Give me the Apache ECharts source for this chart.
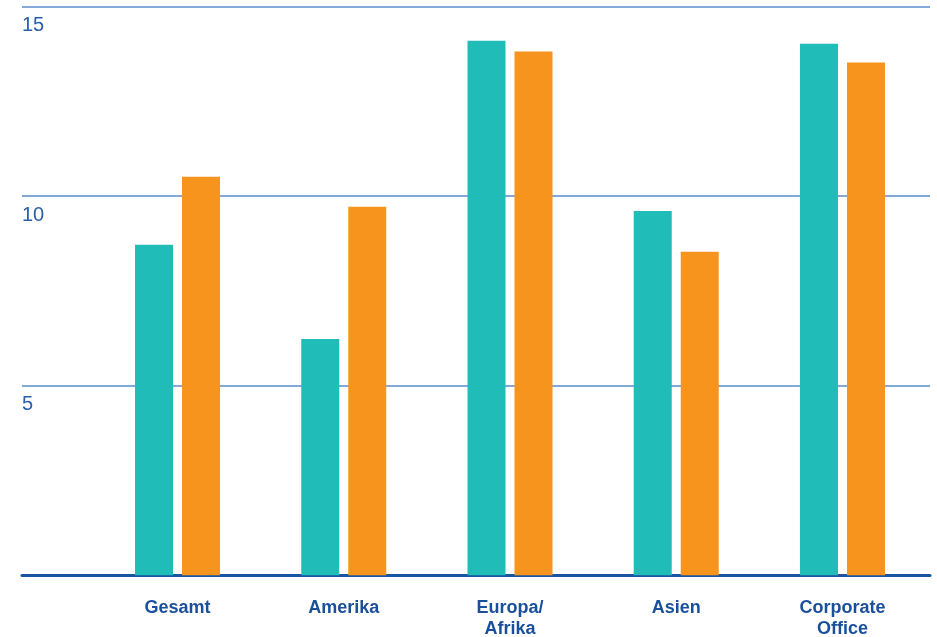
<!DOCTYPE html>
<html>
<head>
<meta charset="utf-8">
<script src="https://cdn.jsdelivr.net/npm/echarts@6/dist/echarts.min.js"></script>
<style>
  html, body { margin: 0; padding: 0; background: #fff; }
  #chart { width: 937px; height: 637px; }
</style>
</head>
<body>
<div id="chart"></div>
<script>
// Regions shown along the category axis
const categories = ['Gesamt', 'Amerika', 'Europa/\nAfrika', 'Asien', 'Corporate\nOffice'];
// Two series per region
const seriesA = [8.72, 6.23, 14.10, 9.61, 14.02];
const seriesB = [10.51, 9.72, 13.81, 8.53, 13.52];
// Value axis range and step
const yMin = 0;
const yMax = 15;
const yStep = 5;

const font = '"Liberation Sans Narrow", "Arial Narrow", "Liberation Sans", Arial, sans-serif';
const chart = echarts.init(document.getElementById('chart'));

chart.setOption({
  animation: false,
  backgroundColor: '#ffffff',
  grid: [
    // Wide grid: gridlines, tick labels, base line
    { left: 22, right: 7, top: 6.5, bottom: 61.7, containLabel: false, outerBoundsMode: 'none' },
    // Inner grid: bars and category labels
    { left: 94.4, right: 11.4, top: 6.5, bottom: 61.7, containLabel: false, outerBoundsMode: 'none' }
  ],
  xAxis: [
    {
      gridIndex: 0, type: 'value', min: 0, max: 1,
      axisLine: { show: true, lineStyle: { color: '#1a55a3', width: 3 } },
      axisTick: { show: false }, axisLabel: { show: false }, splitLine: { show: false }
    },
    {
      gridIndex: 1, type: 'category', data: categories,
      axisLine: { show: false }, axisTick: { show: false },
      axisLabel: {
        interval: 0, margin: 22,
        fontFamily: font, fontWeight: 'bold', fontSize: 18, lineHeight: 21,
        color: '#1a4f9c'
      }
    }
  ],
  yAxis: [
    {
      gridIndex: 0, type: 'value', min: yMin, max: yMax, interval: yStep,
      axisLine: { show: false }, axisTick: { show: false },
      splitLine: { show: true, lineStyle: { color: '#5a8ccb', width: 1.5 } },
      axisLabel: {
        inside: true, margin: 0, align: 'left', verticalAlign: 'top',
        padding: [9, 0, 0, 0],
        fontFamily: font, fontSize: 20, color: '#2a5ea8',
        formatter: v => (v === 0 ? '' : String(v))
      }
    },
    {
      gridIndex: 1, type: 'value', min: yMin, max: yMax, interval: yStep,
      show: false, splitLine: { show: false }
    }
  ],
  series: [
    {
      type: 'bar', xAxisIndex: 1, yAxisIndex: 1, data: seriesA,
      barWidth: 38, barGap: '23.7%',
      itemStyle: { color: '#1fbcb8' }
    },
    {
      type: 'bar', xAxisIndex: 1, yAxisIndex: 1, data: seriesB,
      barWidth: 38, barGap: '23.7%',
      itemStyle: { color: '#f7941e' }
    }
  ]
});
</script>
</body>
</html>
